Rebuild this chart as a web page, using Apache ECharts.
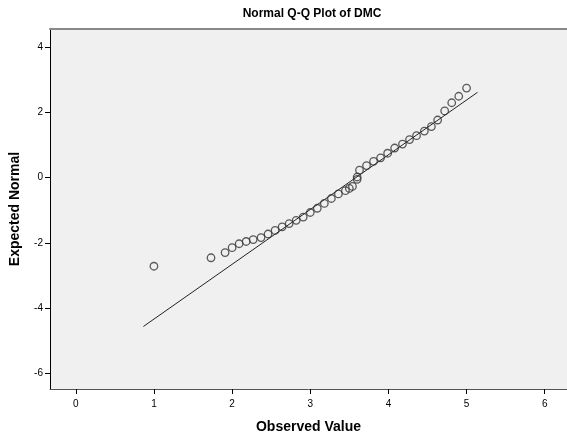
<!DOCTYPE html>
<html>
<head>
<meta charset="utf-8">
<script src="https://cdn.jsdelivr.net/npm/echarts@6/dist/echarts.min.js"></script>
<style>
html,body{margin:0;padding:0;background:#fff;}
#c{width:567px;height:439px;}
</style>
</head>
<body>
<div id="c"></div>
<script>
const observed = [1.00,1.73,1.91,2.00,2.09,2.18,2.27,2.37,2.46,2.55,2.64,2.73,2.82,2.91,3.00,3.09,3.18,3.27,3.36,3.45,3.50,3.54,3.60,3.60,3.63,3.72,3.81,3.90,3.99,4.08,4.18,4.27,4.36,4.46,4.55,4.63,4.72,4.81,4.90,5.00];
const expected = [-2.72,-2.46,-2.30,-2.15,-2.03,-1.96,-1.90,-1.84,-1.73,-1.62,-1.51,-1.41,-1.31,-1.21,-1.07,-0.94,-0.79,-0.64,-0.50,-0.40,-0.33,-0.27,-0.05,0.02,0.23,0.37,0.50,0.61,0.75,0.91,1.03,1.17,1.29,1.43,1.57,1.77,2.05,2.30,2.50,2.75];
const lineX = [0.865, 5.14];
const lineY = [-4.57, 2.62];
const xTicks = [0,1,2,3,4,5,6];
const yTicks = [-6,-4,-2,0,2,4];

const points = observed.map((v,i)=>[v, expected[i]]);
const linePts = lineX.map((v,i)=>[v, lineY[i]]);

const chart = echarts.init(document.getElementById('c'), null, {renderer:'canvas'});
const font = 'Arial, "Liberation Sans", sans-serif';
chart.setOption({
  animation:false,
  backgroundColor:'#ffffff',
  title:{
    text:'Normal Q-Q Plot of DMC',
    left:307, top:3, textAlign:'center',
    textStyle:{fontFamily:font, fontSize:12, fontWeight:'bold', color:'#000'}
  },
  grid:{left:47, top:29, right:0, bottom:42, show:true, backgroundColor:'#f0f0f0', borderWidth:0},
  xAxis:[{
    type:'value', min:-0.33, max:6.285, position:'bottom',
    name:'Observed Value', nameLocation:'middle', nameGap:31,
    nameTextStyle:{fontFamily:font, fontSize:14, fontWeight:'bold', color:'#000'},
    axisLine:{show:true, onZero:false, lineStyle:{color:'#555', width:1}},
    axisTick:{show:true, customValues:xTicks, length:5, lineStyle:{color:'#000'}},
    axisLabel:{show:true, customValues:xTicks, fontFamily:font, fontSize:10, color:'#000', margin:10},
    splitLine:{show:false}
  },{
    type:'value', min:-0.33, max:6.285, position:'top',
    axisLine:{show:true, onZero:false, lineStyle:{color:'#888', width:2}},
    axisTick:{show:false}, axisLabel:{show:false}, splitLine:{show:false}
  }],
  yAxis:{
    type:'value', min:-6.49, max:4.565,
    name:'Expected Normal', nameLocation:'middle', nameGap:28, nameRotate:90,
    nameTextStyle:{fontFamily:font, fontSize:14, fontWeight:'bold', color:'#000'},
    axisLine:{show:true, onZero:false, lineStyle:{color:'#000', width:1}},
    axisTick:{show:true, customValues:yTicks, length:5, lineStyle:{color:'#000'}},
    axisLabel:{show:true, customValues:yTicks, fontFamily:font, fontSize:10, color:'#000', margin:7},
    splitLine:{show:false}
  },
  series:[{
    type:'line', data:linePts, showSymbol:false, symbol:'none',
    lineStyle:{color:'#222', width:1}, silent:true, z:2
  },{
    type:'scatter', data:points, symbol:'circle', symbolSize:7.5,
    itemStyle:{color:'rgba(0,0,0,0)', borderColor:'#333', borderWidth:1.3}, z:3
  }]
});
</script>
</body>
</html>
